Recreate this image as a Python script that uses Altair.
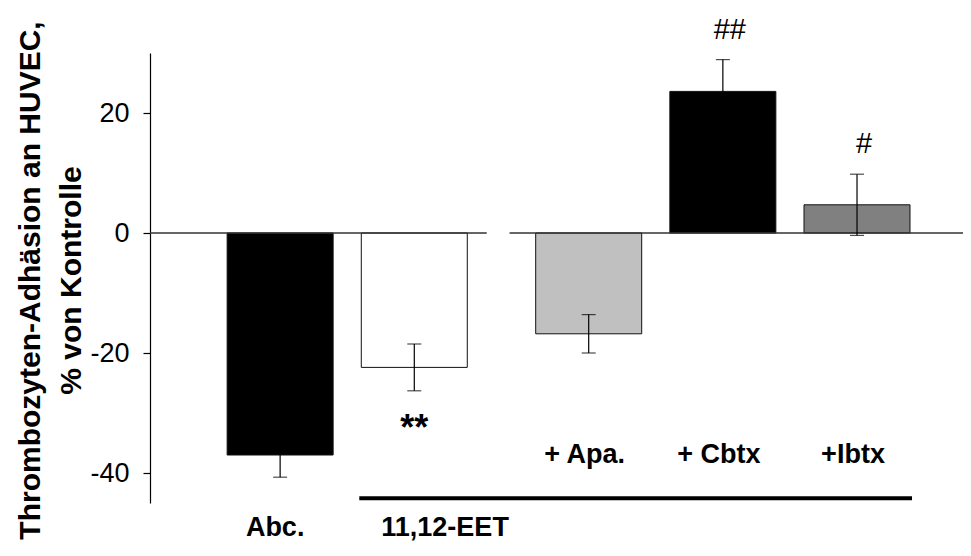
import altair as alt
import pandas as pd

# ---- data ----
categories = ["Abc.", "11,12-EET", "+ Apa.", "+ Cbtx", "+Ibtx"]
means = [-37.0, -22.4, -16.8, 23.6, 4.7]
errors = [3.7, 3.9, 3.2, 5.3, 5.1]
fills = ["#000000", "#ffffff", "#c0c0c0", "#000000", "#808080"]
signif = ["", "**", "", "##", "#"]
label_row = ["bottom", "bottom", "top", "top", "top"]

# ---- layout (x slots in an abstract unit, with a gap between the two groups) ----
slots = [1.0, 2.0, 3.3, 4.3, 5.3]
x_domain = [0.03, 6.09]
baseline_segments = [(0.03, 2.54), (2.71, 6.09)]
half_bar = 0.41
FONT = "Liberation Sans"

df = pd.DataFrame({
    "cat": categories,
    "slot": slots,
    "mean": means,
    "err": errors,
    "fill": fills,
    "sig": signif,
    "row": label_row,
})
df["lo"] = df["mean"] - df["err"]
df["hi"] = df["mean"] + df["err"]
df["zero"] = 0.0
df["sig_y"] = [m - e - 5.3 if m < 0 else m + e + 5.0 for m, e in zip(df["mean"], df["err"])]

yaxis = alt.Axis(
    values=[-40, -20, 0, 20],
    labelExpr="'' + datum.value",
    tickSize=7, tickColor="black", tickWidth=1.2,
    domainColor="black", domainWidth=1.2,
    labelFont=FONT, labelFontSize=27, labelColor="black", labelPadding=14,
    grid=False,
    title=["Thrombozyten-Adhäsion an HUVEC,", "% von Kontrolle"],
    titleFont=FONT, titleFontSize=30, titleFontWeight="bold", titleColor="black",
    titleLineHeight=41, titleAngle=-90, titleAlign="center", titleBaseline="middle",
    titleX=-120, titleY=227,
)
xscale = alt.Scale(domain=x_domain, nice=False, zero=False, padding=0)
yscale = alt.Scale(domain=[-45, 30], nice=False, zero=False, padding=0)


def X(field):
    return alt.X(field, type="quantitative", scale=xscale, axis=None)


def Y(field):
    return alt.Y(field, type="quantitative", scale=yscale, axis=yaxis)


base = alt.Chart(df)

bars = base.mark_bar(size=106, stroke="#111111", strokeWidth=1).encode(
    x=X("slot"), y=Y("mean"), y2="zero:Q",
    fill=alt.Fill("fill:N", scale=None),
)

seg_df = pd.DataFrame({"x0": [s[0] for s in baseline_segments],
                       "x1": [s[1] for s in baseline_segments],
                       "y0": [0.0, 0.0]})
zero_line = alt.Chart(seg_df).mark_rule(color="#333333", strokeWidth=1.5).encode(
    x=X("x0"), x2="x1:Q", y=Y("y0"),
)

err_rule = base.mark_rule(color="black", strokeWidth=1.2).encode(
    x=X("slot"), y=Y("lo"), y2="hi:Q",
)
cap_lo = base.mark_tick(orient="horizontal", size=14, thickness=1.2, color="black").encode(
    x=X("slot"), y=Y("lo"),
)
cap_hi = base.mark_tick(orient="horizontal", size=14, thickness=1.2, color="black").encode(
    x=X("slot"), y=Y("hi"),
)

stars = base.transform_filter("datum.sig == '**'").mark_text(
    font=FONT, fontSize=36, fontWeight="bold", color="black", baseline="middle", dy=6,
).encode(x=X("slot"), y=Y("sig_y"), text="sig:N")

hashes = base.transform_filter("datum.sig == '#' || datum.sig == '##'").mark_text(
    font=FONT, fontSize=29, color="black", baseline="middle", dx=7,
).encode(x=X("slot"), y=Y("sig_y"), text="sig:N")

top_labels = base.transform_filter("datum.row == 'top'").transform_calculate(
    ly="-37"
).mark_text(
    font=FONT, fontSize=27, fontWeight="bold", color="black", baseline="middle", dx=-4,
).encode(x=X("slot"), y=Y("ly:Q"), text="cat:N")

abc_label = base.transform_filter("datum.cat == 'Abc.'").transform_calculate(
    ly="-49.2"
).mark_text(
    font=FONT, fontSize=27, fontWeight="bold", color="black", baseline="middle", dx=-5,
).encode(x=X("slot"), y=Y("ly:Q"), text="cat:N")

eet_label = base.transform_filter("datum.cat == '11,12-EET'").transform_calculate(
    ly="-49.2"
).mark_text(
    font=FONT, fontSize=27, fontWeight="bold", color="black", baseline="middle",
    align="left", dx=-33,
).encode(x=X("slot"), y=Y("ly:Q"), text="cat:N")

bracket_df = pd.DataFrame({
    "x0": [slots[1] - half_bar],
    "x1": [slots[4] + half_bar],
    "y0": [-44.2],
})
bracket = alt.Chart(bracket_df).mark_rule(color="black", strokeWidth=4).encode(
    x=X("x0"), x2="x1:Q", y=Y("y0"),
)

chart = alt.layer(
    bars, zero_line, err_rule, cap_lo, cap_hi, stars, hashes,
    top_labels, abc_label, eet_label, bracket,
).properties(
    width=813, height=450,
    padding={"left": 142, "top": 45, "right": 0, "bottom": 45},
    autosize=alt.AutoSizeParams(type="none"),
    background="white",
).configure_view(stroke=None)

chart.save("out.html", embed_options={"renderer": "svg", "actions": False})
